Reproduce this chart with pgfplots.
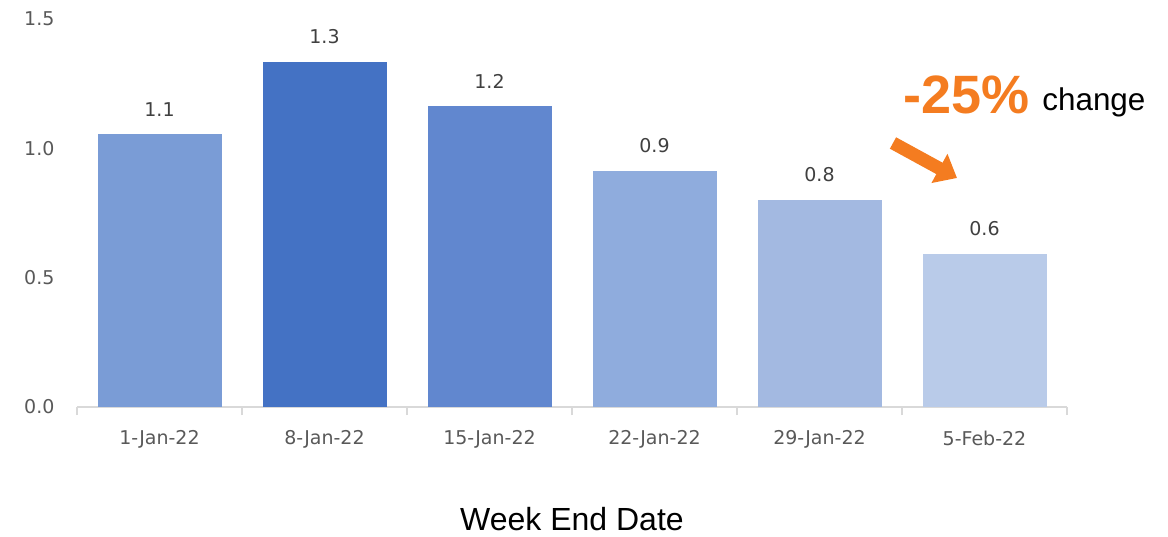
\documentclass[border=0pt]{standalone}
\usepackage{fontspec}
\setmainfont{Liberation Sans}
\newfontfamily\tickfont{DejaVu Sans}
\usepackage{pgfplots}
\pgfplotsset{compat=1.18}
\usetikzlibrary{arrows.meta}

\definecolor{barA}{HTML}{7A9CD6}
\definecolor{barB}{HTML}{4472C4}
\definecolor{barC}{HTML}{6187CF}
\definecolor{barD}{HTML}{8FACDD}
\definecolor{barE}{HTML}{A3B9E1}
\definecolor{barF}{HTML}{B9CBE9}
\definecolor{ticktxt}{HTML}{595959}
\definecolor{lbltxt}{HTML}{404040}
\definecolor{axline}{HTML}{D9D9D9}
\definecolor{accent}{HTML}{F47C20}

\begin{document}
\begin{tikzpicture}
\path[use as bounding box] (0,0) rectangle (584pt,268pt);
\begin{axis}[
    at={(38.5pt,64.5pt)}, anchor=south west,
    width=495pt, height=194pt, scale only axis,
    xmin=-0.5, xmax=5.5,
    ymin=0, ymax=1.5,
    axis x line*=bottom,
    axis y line*=left,
    y axis line style={draw=none},
    x axis line style={draw=axline, line width=0.8pt},
    xtick={0,1,2,3,4,5},
    xticklabels={1-Jan-22,8-Jan-22,15-Jan-22,22-Jan-22,29-Jan-22,5-Feb-22},
    major x tick style={draw=none},
    minor xtick={-0.5,0.5,1.5,2.5,3.5,4.5,5.5},
    minor x tick style={draw=axline, line width=0.8pt},
    tick align=outside,
    minor tick length=4pt,
    ytick={0,0.5,1,1.5},
    ytick style={draw=none},
    yticklabel style={/pgf/number format/fixed, /pgf/number format/fixed zerofill,
        /pgf/number format/precision=1, /pgf/number format/assume math mode=true, xshift=-3.5pt},
    tick label style={font=\tickfont\fontsize{9.5}{10}\selectfont, text=ticktxt},
    xticklabel style={yshift=-4pt},
    xlabel={Week End Date},
    xlabel style={at={(axis description cs:0.5,0)}, anchor=base, yshift=-61.5pt,
        font=\fontsize{16}{18}\selectfont},
    nodes near coords,
    every node near coord/.append style={/pgf/number format/fixed, /pgf/number format/fixed zerofill,
        /pgf/number format/precision=1, /pgf/number format/assume math mode=true,
        font=\tickfont\fontsize{9.5}{10}\selectfont, text=lbltxt, yshift=5.5pt},
    clip=false,
]
\addplot[ybar, bar width=62pt, bar shift=0pt, fill=barA, draw=none] coordinates {(0,1.055)};
\addplot[ybar, bar width=62pt, bar shift=0pt, fill=barB, draw=none] coordinates {(1,1.334)};
\addplot[ybar, bar width=62pt, bar shift=0pt, fill=barC, draw=none] coordinates {(2,1.163)};
\addplot[ybar, bar width=62pt, bar shift=0pt, fill=barD, draw=none] coordinates {(3,0.912)};
\addplot[ybar, bar width=62pt, bar shift=0pt, fill=barE, draw=none] coordinates {(4,0.800)};
\addplot[ybar, bar width=62pt, bar shift=0pt, fill=barF, draw=none] coordinates {(5,0.591)};
\end{axis}
% annotation
\node[anchor=base west, inner sep=0, text=accent, font=\bfseries\fontsize{27}{30}\selectfont] at (451.5pt,211pt) {-25\%};
\node[anchor=base west, inner sep=0, font=\fontsize{15.7}{17}\selectfont] at (521pt,212.5pt) {change};
\draw[accent, line width=6.5pt, -{Triangle[length=10pt,width=16pt]}] (446.5pt,196.5pt) -- (478.5pt,179pt);
\end{tikzpicture}
\end{document}
